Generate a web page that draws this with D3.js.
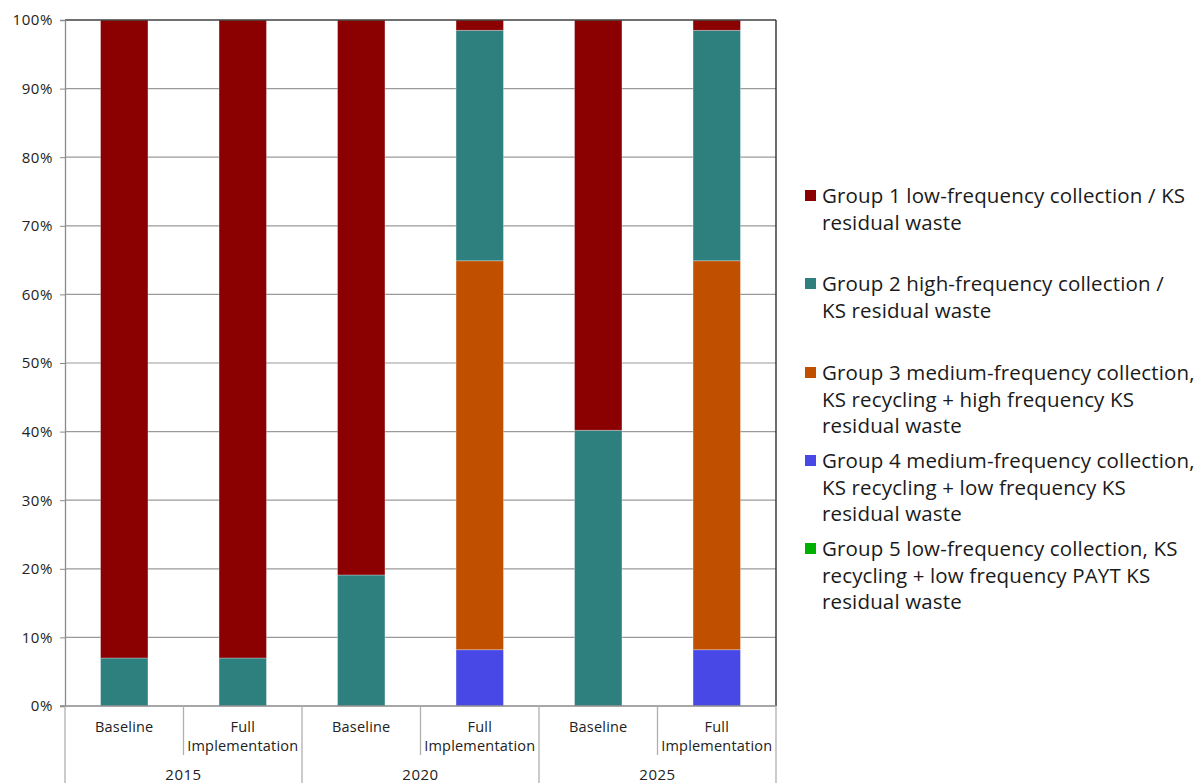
<!DOCTYPE html>
<html>
<head>
<meta charset="utf-8">
<script src="https://cdn.jsdelivr.net/npm/d3@7"></script>
<style>
  html, body { margin: 0; padding: 0; background: #fff; }
  svg { display: block; font-family: "Open Sans", "Noto Sans", sans-serif; }
</style>
</head>
<body>
<svg id="chart" width="1199" height="783"></svg>
<script>
// Scenario columns: year groups and the two variants within each year
const years = ["2015", "2020", "2025"];
const variants = ["Baseline", "Full Implementation"];

// Share of households per collection group (percent), one value per column
const group1 = [93.0, 93.0, 80.9, 1.5, 59.8, 1.5];
const group2 = [7.0, 7.0, 19.1, 33.6, 40.2, 33.6];
const group3 = [0, 0, 0, 56.7, 0, 56.7];
const group4 = [0, 0, 0, 8.2, 0, 8.2];
const group5 = [0, 0, 0, 0, 0, 0];

const seriesNames = ["Group 1", "Group 2", "Group 3", "Group 4", "Group 5"];
const seriesColors = ["#8b0000", "#2e807f", "#c05000", "#4848e6", "#00b000"];
const legendLines = [
  ["Group 1 low-frequency collection / KS", "residual waste"],
  ["Group 2 high-frequency collection /", "KS residual waste"],
  ["Group 3 medium-frequency collection,", "KS recycling + high frequency KS", "residual waste"],
  ["Group 4 medium-frequency collection,", "KS recycling + low frequency KS", "residual waste"],
  ["Group 5 low-frequency collection, KS", "recycling + low frequency PAYT KS", "residual waste"]
];
const yTicks = [0, 10, 20, 30, 40, 50, 60, 70, 80, 90, 100];

// Build column table
const columns = [];
years.forEach(y => variants.forEach(v => columns.push({ year: y, variant: v, key: y + "|" + v })));
const allSeries = [group1, group2, group3, group4, group5];
const table = columns.map((c, i) => {
  const row = { key: c.key };
  seriesNames.forEach((s, j) => row[s] = allSeries[j][i]);
  return row;
});
// Stack bottom-up: Group 5, 4, 3, 2, then Group 1 on top
const stackOrder = ["Group 5", "Group 4", "Group 3", "Group 2", "Group 1"];
const stacked = d3.stack().keys(stackOrder)(table);

const svg = d3.select("#chart");
const plot = { left: 65, right: 776, top: 20, bottom: 706 };

const x = d3.scaleBand().domain(columns.map(c => c.key))
  .range([plot.left, plot.right]).paddingInner(0.6).paddingOuter(0.3);
const xCell = d3.scaleBand().domain(columns.map(c => c.key))
  .range([plot.left, plot.right]);
const y = d3.scaleLinear().domain([0, 100]).range([plot.bottom, plot.top]);
const color = d3.scaleOrdinal().domain(seriesNames).range(seriesColors);

// Gridlines
svg.append("g").selectAll("line").data(yTicks.filter(t => t > 0 && t < 100)).join("line")
  .attr("x1", plot.left).attr("x2", plot.right)
  .attr("y1", d => y(d)).attr("y2", d => y(d))
  .attr("stroke", "#9a9a9a").attr("stroke-width", 1.2);

// Bars
svg.append("g").selectAll("g").data(stacked).join("g")
  .attr("fill", d => color(d.key))
  .selectAll("rect").data(d => d.filter(p => p[1] - p[0] > 0)).join("rect")
  .attr("x", d => x(d.data.key))
  .attr("width", x.bandwidth())
  .attr("y", d => y(d[1]))
  .attr("height", d => y(d[0]) - y(d[1]))
  .attr("stroke", "rgba(255,255,255,0.35)").attr("stroke-width", 0.8);

// Frame: top and right borders
svg.append("line").attr("x1", plot.left).attr("x2", plot.right)
  .attr("y1", plot.top).attr("y2", plot.top).attr("stroke", "#404040").attr("stroke-width", 1.3);
svg.append("line").attr("x1", plot.right).attr("x2", plot.right)
  .attr("y1", plot.top).attr("y2", plot.bottom).attr("stroke", "#202020").attr("stroke-width", 1.3);

// Y axis
const yAxis = d3.axisLeft(y).tickValues(yTicks).tickFormat(d => d + "%").tickSize(5).tickPadding(7);
const gy = svg.append("g").attr("transform", `translate(${plot.left},0)`).call(yAxis);
gy.select(".domain").attr("stroke", "#8a8a8a").attr("stroke-width", 1.3);
gy.selectAll(".tick line").attr("stroke", "#8a8a8a");
gy.selectAll(".tick text").attr("font-size", 15).attr("letter-spacing", "0.6px").attr("fill", "#222")
  .attr("font-family", "Open Sans, sans-serif");

// X axis baseline
svg.append("line").attr("x1", plot.left - 5).attr("x2", plot.right)
  .attr("y1", plot.bottom).attr("y2", plot.bottom).attr("stroke", "#8a8a8a").attr("stroke-width", 1.3);

// Category separators: short between variants, full height between years
const edges = columns.map(c => xCell(c.key)).concat([plot.right]);
svg.append("g").selectAll("line").data(edges).join("line")
  .attr("x1", d => d).attr("x2", d => d)
  .attr("y1", plot.bottom)
  .attr("y2", (d, i) => (i % 2 === 0) ? 783 : 755)
  .attr("stroke", "#b0b0b0").attr("stroke-width", 1.3);

// Variant labels
const vl = svg.append("g").attr("font-size", 14.5).attr("letter-spacing", "0.2px")
  .attr("fill", "#222").attr("text-anchor", "middle");
columns.forEach(c => {
  const cx = xCell(c.key) + xCell.bandwidth() / 2;
  const words = c.variant === "Baseline" ? ["Baseline"] : ["Full", "Implementation"];
  words.forEach((w, i) => {
    vl.append("text").attr("x", cx).attr("y", 732 + i * 19).text(w);
  });
});

// Year labels
svg.append("g").selectAll("text").data(years).join("text")
  .attr("x", (d, i) => (edges[i * 2] + edges[i * 2 + 2]) / 2)
  .attr("y", 780).attr("text-anchor", "middle").attr("letter-spacing", "0.5px")
  .attr("font-size", 15).attr("fill", "#222").text(d => d);

// Legend
const legendTops = [196, 284, 373, 461, 549];
const lg = svg.append("g");
seriesNames.forEach((s, i) => {
  const g = lg.append("g").attr("transform", `translate(805,${legendTops[i]})`);
  g.append("rect").attr("x", 0).attr("y", -6).attr("width", 11).attr("height", 11).attr("fill", color(s));
  legendLines[i].forEach((line, j) => {
    g.append("text").attr("x", 17).attr("y", j * 26.5).attr("dy", "0.35em")
      .attr("font-size", 20.5).attr("letter-spacing", "0.15px").attr("fill", "#1a1a1a").text(line);
  });
});
</script>
</body>
</html>
